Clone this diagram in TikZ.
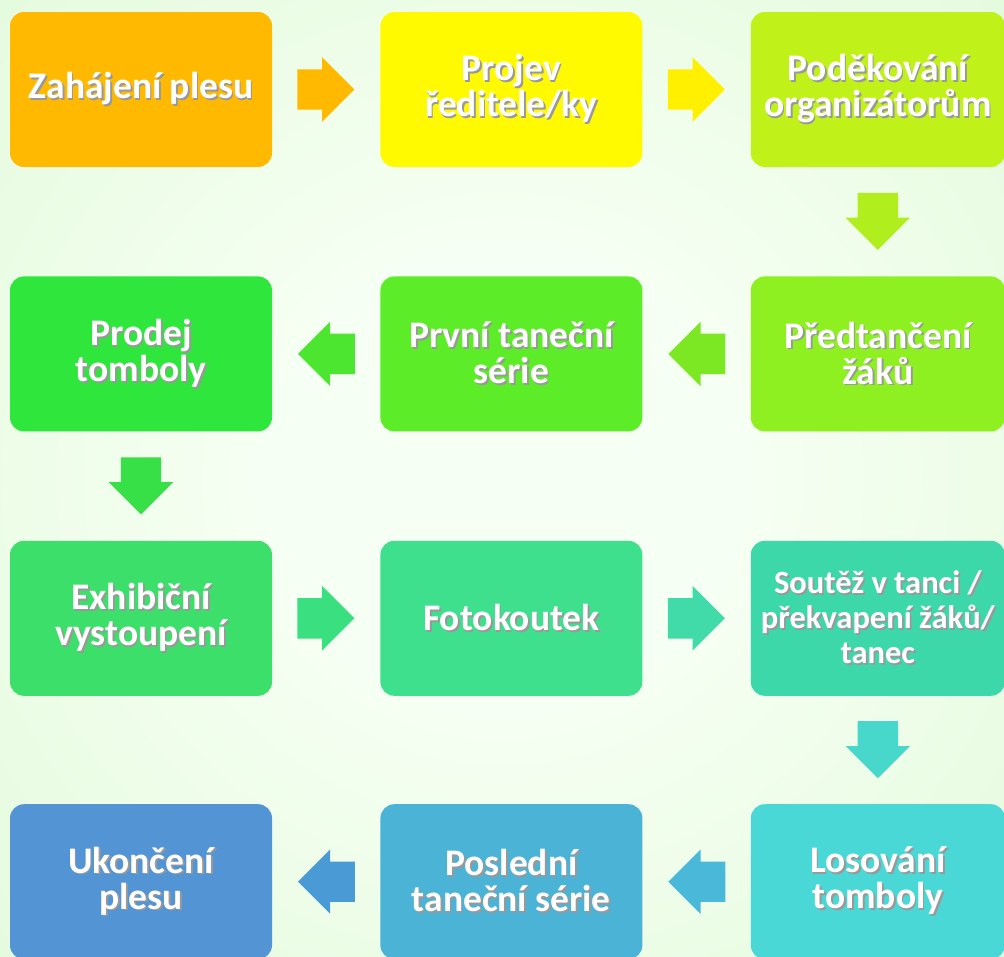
\documentclass[tikz,border=0pt]{standalone}
\usepackage{fontspec}
\setmainfont{Carlito}
\usepackage{tikz}
\usetikzlibrary{positioning,calc,shapes.arrows}

\definecolor{bgin}{RGB}{246,255,243}
\definecolor{bgout}{RGB}{202,245,188}
\definecolor{c1}{RGB}{255,185,0}
\definecolor{c2}{RGB}{255,250,0}
\definecolor{c3}{RGB}{192,242,26}
\definecolor{c4}{RGB}{142,240,32}
\definecolor{c5}{RGB}{92,236,40}
\definecolor{c6}{RGB}{46,230,60}
\definecolor{c7}{RGB}{60,223,106}
\definecolor{c8}{RGB}{62,224,142}
\definecolor{c9}{RGB}{61,216,170}
\definecolor{c10}{RGB}{74,216,214}
\definecolor{c11}{RGB}{75,179,214}
\definecolor{c12}{RGB}{83,148,212}
\definecolor{a1}{RGB}{255,185,0}
\definecolor{a2}{RGB}{255,240,0}
\definecolor{a3}{RGB}{176,238,30}
\definecolor{a4}{RGB}{124,232,36}
\definecolor{a5}{RGB}{76,230,48}
\definecolor{a6}{RGB}{56,224,72}
\definecolor{a7}{RGB}{58,223,128}
\definecolor{a8}{RGB}{64,219,168}
\definecolor{a9}{RGB}{72,215,203}
\definecolor{a10}{RGB}{74,184,216}
\definecolor{a11}{RGB}{74,154,214}

\pgfdeclareradialshading{bgshade}{\pgfpoint{0bp}{0bp}}{color(0bp)=(bgin); color(12bp)=(bgin); color(72bp)=(bgout)}

% text with a small drop shadow
\newcommand{\sh}[1]{\rlap{\kern1.8pt\raisebox{-1.8pt}{\textcolor{black!40}{#1}}}#1}

\begin{document}
\begin{tikzpicture}[
            x=1pt, y=-1pt,
            node distance=108pt,
            box/.style={
                rectangle,
                rounded corners=14pt,
                minimum width=262pt,
                minimum height=155pt,
                inner sep=0pt,
                align=center,
                text=white,
                font=\bfseries\fontsize{37.5}{36}\selectfont
            },
            narrow/.style={minimum width=254pt},
            arr/.style={
                single arrow,
                anchor=tip,
                minimum height=57pt,
                inner xsep=0pt,
                inner ysep=20pt,
                single arrow head extend=12pt,
                single arrow head indent=0pt
            },
            down/.style={shape border rotate=270, inner xsep=20pt, inner ysep=0pt}
        ]
            % pozadi
            \shade[shading=bgshade] (0,0) rectangle (1004,956);
            \useasboundingbox (0,0) rectangle (1004,956);

            % bloky
            \node[box, fill=c1] (1) at (141,89.5) {\sh{Zahájení plesu}};
            \node[box, fill=c2] (2) [right=of 1] {\sh{Projev}\\\sh{ředitele/ky}};
            \node[box, narrow, fill=c3] (3) [right=of 2] {\sh{Poděkování}\\\sh{organizátorům}};
            \node[box, narrow, fill=c4] (4) [below=109pt of 3] {\sh{Předtančení}\\\sh{žáků}};
            \node[box, fill=c5] (5) [left=of 4] {\sh{První taneční}\\\sh{série}};
            \node[box, fill=c6] (6) [left=of 5] {\sh{Prodej}\\\sh{tomboly}};
            \node[box, fill=c7] (7) [below=109pt of 6] {\sh{Exhibiční}\\\sh{vystoupení}};
            \node[box, fill=c8] (8) [right=of 7] {\sh{Fotokoutek}};
            \node[box, narrow, fill=c9, font=\bfseries\fontsize{32.5}{35}\selectfont] (9) [right=of 8] {\sh{Soutěž v tanci /}\\\sh{překvapení žáků/}\\\sh{tanec}};
            \node[box, narrow, fill=c10] (10) [below=108pt of 9] {\sh{Losování}\\\sh{tomboly}};
            \node[box, fill=c11] (11) [left=of 10] {\sh{Poslední}\\\sh{taneční série}};
            \node[box, fill=c12] (12) [left=of 11] {\sh{Ukončení}\\\sh{plesu}};

            % sipky
            \node[arr, fill=a1] (a12) at ($(1.east)!0.5!(2.west)+(28.5,0)$) {};
            \node[arr, fill=a2] (a23) at ($(2.east)!0.5!(3.west)+(28.5,0)$) {};
            \node[arr, down, fill=a3] (a34) at ($(3.south)!0.5!(4.north)+(0,28.5)$) {};
            \node[arr, fill=a4, shape border rotate=180] (a45) at ($(4.west)!0.5!(5.east)+(-28.5,0)$) {};
            \node[arr, fill=a5, shape border rotate=180] (a56) at ($(5.west)!0.5!(6.east)+(-28.5,0)$) {};
            \node[arr, down, fill=a6] (a67) at ($(6.south)!0.5!(7.north)+(0,28.5)$) {};
            \node[arr, fill=a7] (a78) at ($(7.east)!0.5!(8.west)+(28.5,0)$) {};
            \node[arr, fill=a8] (a89) at ($(8.east)!0.5!(9.west)+(28.5,0)$) {};
            \node[arr, down, fill=a9] (a910) at ($(9.south)!0.5!(10.north)+(0,28.5)$) {};
            \node[arr, fill=a10, shape border rotate=180] (a1011) at ($(10.west)!0.5!(11.east)+(-28.5,0)$) {};
            \node[arr, fill=a11, shape border rotate=180] (a1112) at ($(11.west)!0.5!(12.east)+(-28.5,0)$) {};
        \end{tikzpicture}
\end{document}
